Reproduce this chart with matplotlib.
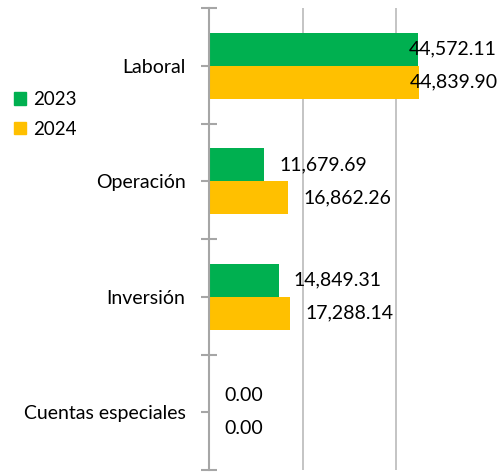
import matplotlib.pyplot as plt
import numpy as np
from matplotlib.patches import Patch

categories = ['Laboral', 'Operación', 'Inversión', 'Cuentas especiales']
values_2023 = [44572.11, 11679.69, 14849.31, 0.00]
values_2024 = [44839.90, 16862.26, 17288.14, 0.00]
series_labels = ['2023', '2024']

green = '#00B050'
yellow = '#FFC000'
axis_gray = '#A6A6A6'

plt.rcParams['font.family'] = ['Lato', 'DejaVu Sans']
fs = 14

fig = plt.figure(figsize=(4.99, 4.74), dpi=100)
ax = fig.add_axes([209 / 499, 4 / 474, 281 / 499, 462 / 474])

y = np.arange(len(categories))
h = 0.286
ax.barh(y - h / 2, values_2023, height=h, color=green)
ax.barh(y + h / 2, values_2024, height=h, color=yellow)

ax.set_xlim(0, 60000)
ax.set_ylim(len(categories) - 0.5, -0.5)

# value labels; the big ones get pulled back over the bar end
for vals, off in [(values_2023, -h / 2), (values_2024, h / 2)]:
    for i, v in enumerate(vals):
        dx = -6.5 if v > 40000 else 11
        ax.annotate(f'{v:,.2f}', (v, i + off), xytext=(dx, 0),
                    textcoords='offset points', ha='left', va='center',
                    fontsize=fs, color='black')

ax.set_xticks([20000, 40000])
ax.xaxis.grid(True, color='#BFBFBF', linewidth=1.3)
ax.set_axisbelow(True)
ax.tick_params(axis='x', length=0, labelbottom=False)

ax.set_yticks(np.arange(-0.5, len(categories), 1.0))
ax.set_yticklabels([])
ax.set_yticks(y, minor=True)
ax.set_yticklabels(categories, minor=True, fontsize=fs)
ax.tick_params(axis='y', which='major', direction='inout', length=12,
               width=1.5, color=axis_gray)
ax.tick_params(axis='y', which='minor', direction='out', length=6,
               width=1.5, color=axis_gray, pad=11)

for s in ['top', 'right', 'bottom']:
    ax.spines[s].set_visible(False)
ax.spines['left'].set_color(axis_gray)
ax.spines['left'].set_linewidth(1.5)

handles = [Patch(color=green), Patch(color=yellow)]
fig.legend(handles, series_labels, loc='upper left',
           bbox_to_anchor=(0.002, 0.835), frameon=False, fontsize=13.5,
           handlelength=0.65, handleheight=0.65, handletextpad=0.35,
           labelspacing=0.65, borderpad=0.2)

fig.savefig('out.png', dpi=100)
